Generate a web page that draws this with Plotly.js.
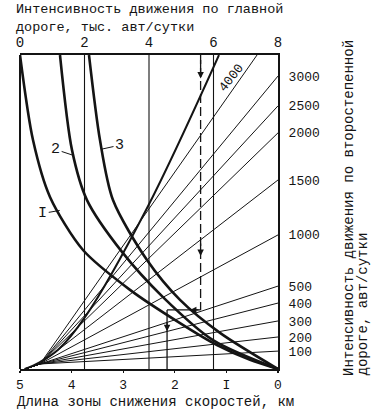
<!DOCTYPE html>
<html><head><meta charset="utf-8">
<script src="https://cdn.plot.ly/plotly-3.0.1.min.js"></script>
<style>html,body{margin:0;padding:0;background:#fff}#chart{width:374px;height:416px}</style>
</head><body><div id="chart"></div>
<script>
// ---- data ----
const mainTicks = [0, 2, 4, 6, 8];            // top axis, thousand veh/day
const mainGrid = [2, 4, 6];                   // vertical reference lines
const kmTicks = [0, 1, 2, 3, 4, 5];           // bottom axis, km
const secondaryLabels = ['100','200','300','400','500','1000','1500','2000','2500','3000'];
const secondaryEndY = [0.057, 0.102, 0.153, 0.21, 0.264, 0.427, 0.602, 0.752, 0.838, 0.933];
const fanStartX = [0.15, 0.62];
const fanStartY = [0, 0.016];
const line3500TopX = 7.35;
const line4000X = [6.17, 3.94, 2.02, 1.18, 0.62, 0.15];
const line4000Y = [1, 0.513, 0.166, 0.061, 0.022, 0];
// reduction-zone curves (bottom axis, km)
const curve1Km = [5, 4.748, 4.419, 3.779, 2.868, 1.899, 1.182, 0.543, 0];
const curve1Y  = [1, 0.729, 0.548, 0.379, 0.252, 0.146, 0.076, 0.029, 0];
const curve2Km = [4.225, 3.992, 3.702, 3.023, 2.229, 1.26, 0];
const curve2Y  = [1, 0.697, 0.538, 0.373, 0.229, 0.092, 0];
const curve3Km = [3.663, 3.45, 3.198, 2.539, 1.899, 1.124, 0];
const curve3Y  = [1, 0.729, 0.538, 0.347, 0.22, 0.115, 0];
// worked example
const exampleMain = 5.6;
const exampleY = 0.188;
const exampleKm = 2.15;

const F = 'Liberation Mono, Courier New, monospace';
const C = '#141414';
const L = 20, R = 278, T = 55, B = 369;
const pX = px => (px - L) / (R - L);
const pY = py => (B - py) / (B - T);
const kmToMain = km => (5 - km) * 8 / 5;

const traces = [];
mainGrid.forEach(v => {
  traces.push({x: [v, v], y: [0, 1], mode: 'lines', line: {color: C, width: 1.1}, hoverinfo: 'skip'});
});
secondaryEndY.forEach((h, i) => {
  traces.push({x: [...fanStartX, 8], y: [...fanStartY, h], xaxis: 'x', yaxis: 'y',
    mode: 'lines', line: {color: C, width: 1}, hoverinfo: 'skip'});
});
traces.push({x: [...fanStartX, line3500TopX], y: [...fanStartY, 1], mode: 'lines',
  line: {color: C, width: 1}, hoverinfo: 'skip'});
traces.push({x: line4000X, y: line4000Y, mode: 'lines',
  line: {color: C, width: 2, shape: 'spline'}, hoverinfo: 'skip'});
[[curve1Km, curve1Y], [curve2Km, curve2Y], [curve3Km, curve3Y]].forEach(c => {
  traces.push({x: c[0], y: c[1], xaxis: 'x2', yaxis: 'y', mode: 'lines',
    line: {color: C, width: 2.6, shape: 'spline', smoothing: 0.8}, hoverinfo: 'skip'});
});
// example path
traces.push({x: [exampleMain, exampleMain], y: [1, exampleY], mode: 'lines',
  line: {color: C, width: 1.3, dash: '9px,4px'}, hoverinfo: 'skip'});
traces.push({x: [exampleMain, kmToMain(exampleKm)], y: [exampleY, exampleY], mode: 'lines',
  line: {color: C, width: 1.3}, hoverinfo: 'skip'});
traces.push({x: [exampleKm, exampleKm], y: [exampleY, 0], xaxis: 'x2', mode: 'lines',
  line: {color: C, width: 1.3}, hoverinfo: 'skip'});

const ann = [];
const txt = (text, x, y, xa, ya, size, extra) => Object.assign({text, x, y, xref: 'paper', yref: 'paper',
  xanchor: xa, yanchor: ya, showarrow: false, borderpad: 0, font: {family: F, size, color: C}}, extra || {});
ann.push(txt('Интенсивность движения по главной<br>дороге, тыс. авт/сутки', pX(15), pY(1), 'left', 'top', 13.5, {align: 'left'}));
ann.push(txt('Длина зоны снижения скоростей, км', pX(16), pY(393), 'left', 'top', 14));
ann.push(txt('Интенсивность движения по второстепенной', pX(349), pY(377), 'center', 'bottom', 14, {textangle: -90}));
ann.push(txt('дороге, авт/сутки', pX(362), pY(377), 'center', 'bottom', 14, {textangle: -90}));
ann.push({text: '4000', x: 6.57, y: 0.927, xref: 'x', yref: 'y', showarrow: false, textangle: -52,
  font: {family: F, size: 13, color: C}});
// curve labels with leaders
const lab = (text, km, y, ax, ay) => ({text, x: km, y, xref: 'x2', yref: 'y', showarrow: true,
  arrowhead: 0, arrowwidth: 1, arrowcolor: C, ax, ay, font: {family: F, size: 15, color: C}});
ann.push(lab('I', 4.23, 0.505, -17, 3));
ann.push(lab('2', 3.96, 0.68, -18, -6));
ann.push(lab('3', 3.42, 0.7, 18, -4));
// arrowheads
const arr = (x, y, ax, ay, xref) => ({text: '', x, y, xref: xref || 'x', yref: 'y', showarrow: true,
  arrowhead: 2, arrowsize: 1, arrowwidth: 1.3, arrowcolor: C, ax, ay});
ann.push(arr(exampleMain, 0.925, 0, -20));
ann.push(arr(exampleMain, 0.36, 0, -14));
ann.push(arr(5.27, exampleY, 10, 0));
ann.push(arr(exampleKm, 0.12, 0, -10, 'x2'));

const axBase = {showline: true, linecolor: C, linewidth: 2, zeroline: false, fixedrange: true,
  showgrid: false, tickfont: {family: F, size: 15, color: C}};
const layout = {
  width: 374, height: 416, paper_bgcolor: '#fff', plot_bgcolor: '#fff', showlegend: false,
  margin: {l: L, r: 374 - R, t: T, b: 416 - B, pad: 0},
  xaxis: Object.assign({}, axBase, {side: 'top', range: [0, 8], tickvals: mainTicks, ticks: '',
    ticklabelstandoff: 0, tickfont: {family: F, size: 14, color: C}}),
  xaxis2: Object.assign({}, axBase, {overlaying: 'x', anchor: 'y', side: 'bottom', range: [5, 0],
    tickvals: kmTicks, ticktext: kmTicks.map(v => v === 1 ? 'I' : String(v)), ticks: 'outside',
    ticklen: 2, tickwidth: 1.2, tickcolor: C, ticklabelstandoff: 0,
    tickfont: {family: F, size: 13, color: C}}),
  yaxis: Object.assign({}, axBase, {side: 'right', range: [0, 1], tickvals: secondaryEndY,
    ticktext: secondaryLabels, ticks: '', ticklabelstandoff: 6,
    tickfont: {family: F, size: 13, color: C}}),
  shapes: [{type: 'line', xref: 'paper', yref: 'paper', x0: 0, x1: 0, y0: 0, y1: 1,
    line: {color: C, width: 2}}],
  annotations: ann
};
Plotly.newPlot('chart', traces, layout, {staticPlot: true, displayModeBar: false});
</script></body></html>
